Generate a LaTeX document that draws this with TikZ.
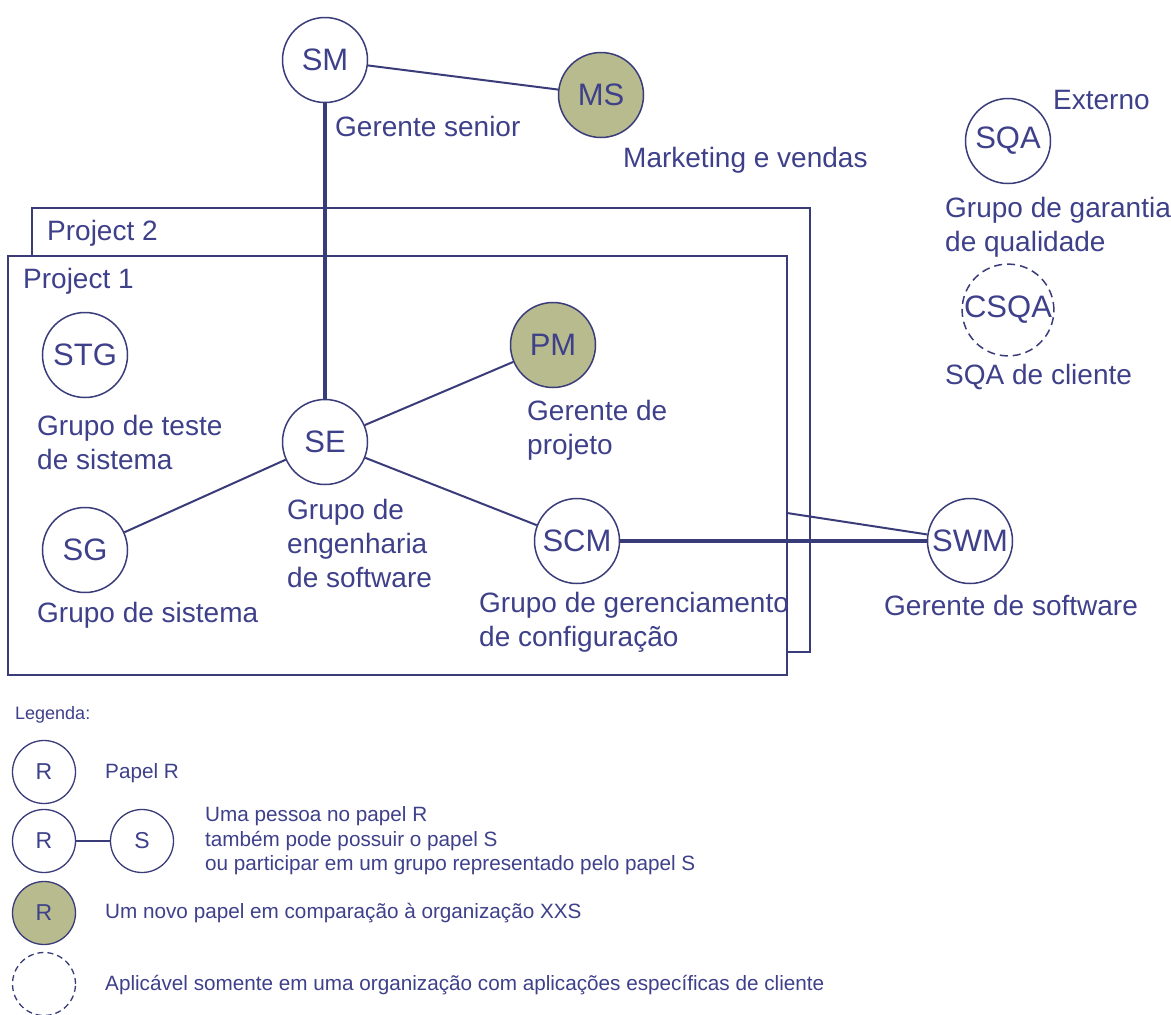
\documentclass[tikz,border=0pt]{standalone}
\usepackage{fontspec}
\setmainfont{Liberation Sans}
\definecolor{ink}{RGB}{58,60,122}
\definecolor{txt}{RGB}{62,64,138}
\definecolor{olive}{RGB}{184,187,142}
\newcommand\lblfont{\fontsize{28}{34}\selectfont}
\newcommand\rolefont{\fontsize{31}{36}\selectfont}
\newcommand\legfont{\fontsize{20.7}{24.5}\selectfont}
\newcommand\legrolefont{\fontsize{23}{27}\selectfont}
\tikzset{
  role/.style={circle, draw=ink, line width=1.5pt, minimum size=85pt, inner sep=0pt,
               font=\rolefont, text=txt},
  newrole/.style={role, fill=olive},
  extrole/.style={role, dash pattern=on 8pt off 5pt},
  legrole/.style={circle, draw=ink, line width=1.3pt, minimum size=63pt, inner sep=0pt,
                  font=\legrolefont, text=txt},
  lbl/.style={font=\lblfont, text=txt, align=left, inner sep=0pt, anchor=west},
  leglbl/.style={font=\legfont, text=txt, align=left, inner sep=0pt, anchor=west},
  frame/.style={draw=ink, line width=1.8pt},
  link/.style={draw=ink, line width=2pt},
  strong/.style={draw=ink, line width=4pt},
}
\begin{document}
\begin{tikzpicture}[x=1pt,y=-1pt]
\useasboundingbox[fill=white] (0,0) rectangle (1171,1015);

% project frames (project 1 in front of project 2)
\draw[frame] (32,208) rectangle (810,652);
\draw[frame, fill=white] (8,256) rectangle (787,675);
\coordinate (p1edge) at (787,513);
\node[lbl] (p2) at (47,233) {Project 2};
\node[lbl] (p1) at (23,281) {Project 1};

% roles
\node[role]    (SM)   at (325,60)  {SM};
\node[newrole] (MS)   at (601,95)  {MS};
\node[role]    (SE)   at (325,442) {SE};
\node[newrole] (PM)   at (553,345) {PM};
\node[role]    (STG)  at (85,355)  {STG};
\node[role]    (SG)   at (85,550)  {SG};
\node[role]    (SCM)  at (577,541) {SCM};
\node[role]    (SWM)  at (970,541) {SWM};
\node[role]    (SQA)  at (1008,141) {SQA};
\node[extrole] (CSQA) at (1008,310) {CSQA};

% role descriptions
\node[lbl] (tSM)   at (335,126) {Gerente senior};
\node[lbl] (tMS)   at (623,160) {Marketing e vendas};
\node[lbl] (tSTG)  at (37,442)  {Grupo de teste\\de sistema};
\node[lbl] (tSG)   at (37,615)  {Grupo de sistema};
\node[lbl] (tPM)   at (527,430) {Gerente de\\projeto};
\node[lbl] (tSE)   at (287,543) {Grupo de\\engenharia\\de software};
\node[lbl] (tSCM)  at (479,622) {Grupo de gerenciamento\\de configuração};
\node[lbl] (tSWM)  at (884,605) {Gerente de software};
\node[lbl] (tExt)  at (1053,100) {Externo};
\node[lbl] (tSQA)  at (945,227) {Grupo de garantia\\de qualidade};
\node[lbl] (tCSQA) at (945,377) {SQA de cliente};

% connections
\draw[strong] (SM) -- (SE);
\draw[link] (SM) -- (MS);
\draw[link] (SE) -- (PM);
\draw[link] (SE) -- (SG);
\draw[link] (SE) -- (SCM);
\draw[strong] (SCM) -- (SWM);
\draw[link] (p1edge) -- (SWM);

% legend
\node[leglbl, font=\fontsize{18}{22}\selectfont] (leg) at (15,715) {Legenda:};
\node[legrole] (lR1) at (44,772) {R};
\node[leglbl] (lt1) at (105,773) {Papel R};
\node[legrole] (lR2) at (44,841) {R};
\node[legrole] (lS)  at (142,841) {S};
\draw[draw=ink, line width=1.3pt] (lR2) -- (lS);
\node[leglbl] (lt2) at (205,841) {Uma pessoa no papel R\\também pode possuir o papel S\\ou participar em um grupo representado pelo papel S};
\node[legrole, fill=olive] (lR3) at (44,913) {R};
\node[leglbl] (lt3) at (105,913) {Um novo papel em comparação à organização XXS};
\node[legrole, dash pattern=on 6pt off 4pt] (lD) at (44,984) {};
\node[leglbl] (lt4) at (105,985) {Aplicável somente em uma organização com aplicações específicas de cliente};
\end{tikzpicture}
\end{document}
